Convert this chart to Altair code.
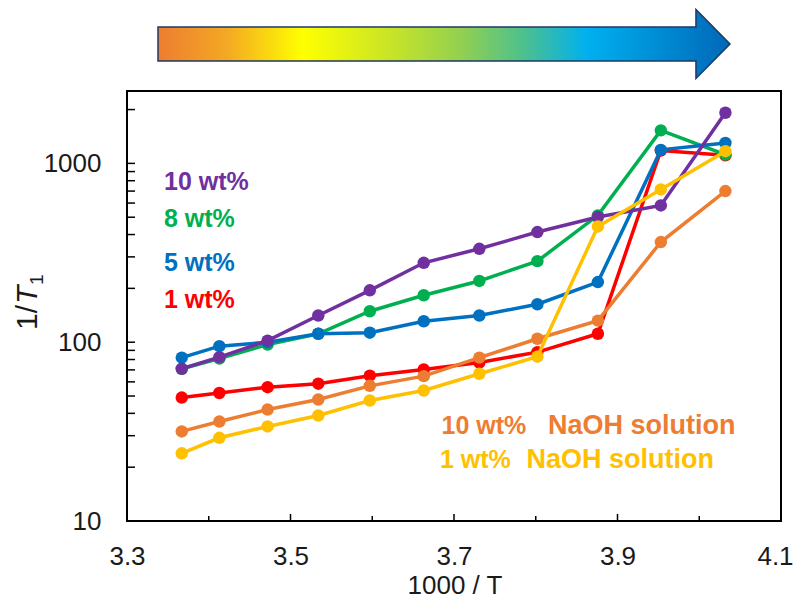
import altair as alt
import pandas as pd

# ---- data ----
inv_T = [3.367, 3.413, 3.472, 3.534, 3.597, 3.663, 3.731, 3.802, 3.876, 3.953, 4.032]

s_1wt = [49, 52, 56, 58.6, 65, 70.4, 77, 88, 111.5, 1180, 1110]
s_naoh10 = [31.7, 36, 42, 47.8, 57, 64.6, 82, 104.5, 132, 363, 700]
s_8wt = [71, 81, 97, 111.5, 149, 183, 220, 284, 512, 1530, 1120]
s_5wt = [82, 95, 100, 111.5, 113, 131, 141, 163, 217, 1190, 1300]
s_10wt = [71, 82.5, 102, 141, 195, 278, 333, 413, 501, 582, 1920]
s_naoh1 = [23.9, 29.2, 33.8, 38.9, 47.2, 53.7, 66.6, 83, 444, 715, 1170]

series_names = ["1 wt%", "10 wt% NaOH", "8 wt%", "5 wt%", "10 wt%", "1 wt% NaOH"]
series_values = [s_1wt, s_naoh10, s_8wt, s_5wt, s_10wt, s_naoh1]
series_colors = ["#FF0000", "#ED7D31", "#00B050", "#0070C0", "#7030A0", "#FFC000"]

legend_labels = ["10 wt%", "8 wt%", "5 wt%", "1 wt%"]
legend_colors = ["#7030A0", "#00B050", "#0070C0", "#FF0000"]
naoh_conc = ["10 wt%", "1 wt%"]
naoh_word = ["NaOH solution"]

x_tick_labels = [3.3, 3.5, 3.7, 3.9, 4.1]
x_minor = [3.4, 3.6, 3.8, 4.0]
x_major_inner = [3.5, 3.7, 3.9]
y_tick_labels = [10, 100, 1000]
y_ticks = [20, 30, 40, 50, 60, 70, 80, 90, 100, 200, 300, 400, 500, 600, 700, 800, 900, 1000, 2000]

x_title = ["1000 / T"]

# ---- layout ----
W, H = 654, 430
FONT = "Liberation Sans, Arial, sans-serif"

xs = alt.Scale(domain=[3.3, 4.1], nice=False, zero=False)
ys = alt.Scale(type="log", domain=[10, 2540], nice=False)

x_axis = alt.Axis(values=x_tick_labels, format=".1f", title=None, grid=False,
                  domain=False, ticks=False, labelPadding=22, labelFontSize=26,
                  labelFont=FONT, labelColor="#1a1a1a", labelFlush=False,
                  labelOverlap=False,
                  labelOffset={"condition": {"test": "datum.value >= 4.09", "value": -6},
                               "value": 0})
y_axis = alt.Axis(values=y_tick_labels, format="d", title=None, grid=False,
                  domain=False, ticks=False, labelPadding=26, labelFontSize=26,
                  labelFont=FONT, labelColor="#1a1a1a", labelFlush=False,
                  labelOverlap=False)


def X(f):
    return alt.X(f, type="quantitative", scale=xs, axis=x_axis)


def Y(f):
    return alt.Y(f, type="quantitative", scale=ys, axis=y_axis)


layers = []

# series: line then markers, series by series
for name, vals, col in zip(series_names, series_values, series_colors):
    df = pd.DataFrame({"x": inv_T, "y": vals, "s": name})
    base = alt.Chart(df)
    layers.append(base.mark_line(strokeWidth=3.5, color=col).encode(x=X("x"), y=Y("y")))
    layers.append(base.mark_circle(size=155, opacity=1, color=col).encode(x=X("x"), y=Y("y")))

# inward ticks
ytd = pd.DataFrame({"v": y_ticks})
layers.append(alt.Chart(ytd).mark_rule(color="black", strokeWidth=1.5).encode(
    y=Y("v"), x=alt.value(0), x2=alt.value(8)))
xmaj = pd.DataFrame({"v": x_major_inner})
layers.append(alt.Chart(xmaj).mark_rule(color="black", strokeWidth=1.5).encode(
    x=X("v"), y=alt.value(H), y2=alt.value(H - 7)))
xmin = pd.DataFrame({"v": x_minor})
layers.append(alt.Chart(xmin).mark_rule(color="black", strokeWidth=1.5).encode(
    x=X("v"), y=alt.value(H), y2=alt.value(H - 5)))

# legend-like labels
legend_y = [91, 128, 172, 209]
for lab, col, yy in zip(legend_labels, legend_colors, legend_y):
    layers.append(alt.Chart(pd.DataFrame({"t": [lab]})).mark_text(
        align="left", baseline="middle", font=FONT, fontSize=25, fontWeight="bold", color=col
    ).encode(text="t:N", x=alt.value(37), y=alt.value(yy)))

naoh_cols = ["#ED7D31", "#FFC000"]
naoh_y = [335, 369]
naoh_x1 = [314.5, 313]
naoh_x2 = [421, 399.5]
for conc, col, yy, x1, x2 in zip(naoh_conc, naoh_cols, naoh_y, naoh_x1, naoh_x2):
    layers.append(alt.Chart(pd.DataFrame({"t": [conc]})).mark_text(
        align="left", baseline="middle", font=FONT, fontSize=25, fontWeight="bold", color=col
    ).encode(text="t:N", x=alt.value(x1), y=alt.value(yy)))
    layers.append(alt.Chart(pd.DataFrame({"t": naoh_word})).mark_text(
        align="left", baseline="middle", font=FONT, fontSize=27, fontWeight="bold", color=col
    ).encode(text="t:N", x=alt.value(x2), y=alt.value(yy)))

# x axis title
layers.append(alt.Chart(pd.DataFrame({"t": x_title})).mark_text(
    align="center", baseline="middle", font=FONT, fontSize=26, color="#1a1a1a"
).encode(text="t:N", x=alt.value(328), y=alt.value(495)))

# y axis title 1/T1 (italic T, subscript 1)
layers.append(alt.Chart(pd.DataFrame({"t": ["1/"]})).mark_text(
    align="right", baseline="middle", font=FONT, fontSize=30, angle=270, color="#1a1a1a"
).encode(text="t:N", x=alt.value(-99), y=alt.value(214)))
layers.append(alt.Chart(pd.DataFrame({"t": ["T"]})).mark_text(
    align="left", baseline="middle", font=FONT, fontSize=30, fontStyle="italic", angle=270, color="#1a1a1a"
).encode(text="t:N", x=alt.value(-99), y=alt.value(213)))
layers.append(alt.Chart(pd.DataFrame({"t": ["1"]})).mark_text(
    align="left", baseline="middle", font=FONT, fontSize=19, angle=270, color="#1a1a1a"
).encode(text="t:N", x=alt.value(-90), y=alt.value(194)))

# gradient arrow above the plot
ARROW = ("M-1,-0.0594 L0.881,-0.0594 L0.881,-0.1206 L1,0 L0.881,0.1206 "
         "L0.881,0.0594 L-1,0.0594 Z")
grad = {
    "gradient": "linear", "x1": 0, "y1": 0, "x2": 1, "y2": 0,
    "stops": [
        {"offset": 0.0, "color": "#ED7D31"},
        {"offset": 0.12, "color": "#F4A823"},
        {"offset": 0.253, "color": "#FFFF00"},
        {"offset": 0.4, "color": "#CBE525"},
        {"offset": 0.53, "color": "#92D050"},
        {"offset": 0.64, "color": "#4CC08E"},
        {"offset": 0.75, "color": "#00B0F0"},
        {"offset": 1.0, "color": "#0068B8"},
    ],
}
layers.append(alt.Chart(pd.DataFrame({"a": [0]})).mark_point(
    shape=ARROW, size=572 * 572, fill=grad, filled=True, stroke="#1F3864",
    strokeWidth=1.5, opacity=1, fillOpacity=1
).encode(x=alt.value(317), y=alt.value(-47)))

chart = alt.layer(*layers).properties(
    width=W, height=H,
    autosize=alt.AutoSizeParams(type="none"),
    padding={"left": 119, "top": 83, "right": 14, "bottom": 80},
    background="white",
).configure_view(stroke="black", strokeWidth=2)

chart.save("out.html", embed_options={"renderer": "svg", "actions": False})
